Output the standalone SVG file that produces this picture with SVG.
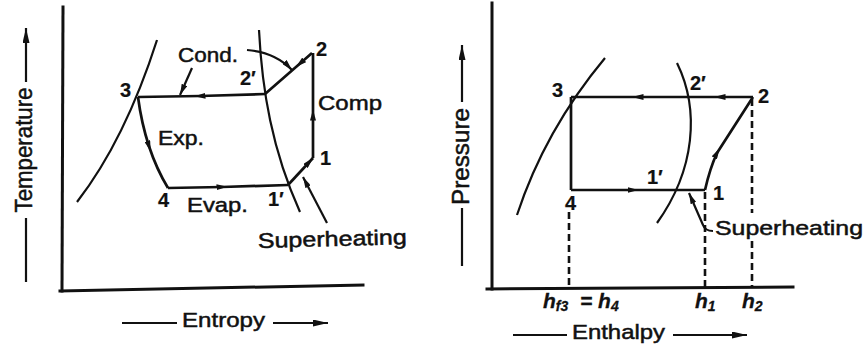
<svg xmlns="http://www.w3.org/2000/svg" width="867" height="347" viewBox="0 0 867 347">
<style>
  .ax{fill:none;stroke:#111;stroke-width:3;stroke-linecap:square}
  .cur{fill:none;stroke:#111;stroke-width:2.2}
  .cy{fill:none;stroke:#111;stroke-width:2.7;stroke-linejoin:round}
  .ptr{fill:none;stroke:#111;stroke-width:2.2}
  .dash{fill:none;stroke:#111;stroke-width:2.6;stroke-dasharray:7 4}
  .mid{marker-mid:url(#am)}
  .end{marker-end:url(#ae)}
  .lab{marker-end:url(#al)}
  text{font-family:"Liberation Sans",Arial,sans-serif;font-size:21px;fill:#111;stroke:#111;stroke-width:0.5}
  .num{font-size:20px;font-weight:bold;stroke-width:0.2}
  .big{font-size:24px}
  .h{font-style:italic;font-weight:bold;stroke-width:0.3}
  .sub{font-size:14px}
</style>
<defs>
  <marker id="am" viewBox="0 0 11 6" refX="5.5" refY="3" markerWidth="11" markerHeight="6" orient="auto" markerUnits="userSpaceOnUse"><path d="M0,0 L11,3 L0,6 z" fill="#111"/></marker>
  <marker id="ae" viewBox="0 0 11 6" refX="11" refY="3" markerWidth="11" markerHeight="6" orient="auto" markerUnits="userSpaceOnUse"><path d="M0,0 L11,3 L0,6 z" fill="#111"/></marker>
  <marker id="al" viewBox="0 0 15 7" refX="15" refY="3.5" markerWidth="15" markerHeight="7" orient="auto" markerUnits="userSpaceOnUse"><path d="M0,0 L15,3.5 L0,7 z" fill="#111"/></marker>
</defs>

<g id="ts-diagram">
  <g id="ts-axes">
    <path class="ax" d="M63,7 L62,291"/>
    <path class="ax" d="M60,291 L363,285"/>
    <path class="cur" d="M26,282 L26,218"/>
    <path class="cur lab" d="M26,82 L26,28"/>
    <text class="big" transform="translate(32,150) rotate(-90)" text-anchor="middle" textLength="125" lengthAdjust="spacingAndGlyphs">Temperature</text>
    <path class="cur" d="M122,323 L177,323"/>
    <path class="cur lab" d="M273,323 L328,323"/>
    <text x="182" y="327" textLength="83" lengthAdjust="spacingAndGlyphs">Entropy</text>
  </g>
  <g id="ts-curves">
    <path class="cur" d="M77,202 Q125,140 157,40"/>
    <path class="cur" d="M259,30 C262,90 272,150 300,212"/>
  </g>
  <g id="ts-connectors">
    <path class="cy mid" d="M265,94 L200,96 L138,97"/>
    <path class="cy mid" d="M312,53 L300,63.5 L265,94"/>
    <path class="cy mid" d="M313,158 L313,115 L313,53"/>
    <path class="cy mid" d="M138,97 Q141.5,123.5 149,146.25 Q156.5,169 168,188"/>
    <path class="cy mid" d="M168,188 L222,187 L288,185"/>
    <path class="cy end" d="M288,185 L313,158"/>
    <path class="ptr end" d="M247,50 Q275,52 292,70"/>
    <path class="ptr end" d="M192,68 L180,95"/>
    <path class="ptr end" d="M327,223 L303,177"/>
  </g>
  <g id="ts-labels">
    <text x="178" y="62" textLength="60" lengthAdjust="spacingAndGlyphs">Cond.</text>
    <text x="318" y="110" textLength="64" lengthAdjust="spacingAndGlyphs">Comp</text>
    <text x="158" y="145" textLength="46" lengthAdjust="spacingAndGlyphs">Exp.</text>
    <text x="187" y="212" textLength="61" lengthAdjust="spacingAndGlyphs">Evap.</text>
    <text x="258" y="248" textLength="149" lengthAdjust="spacingAndGlyphs" transform="rotate(-1.5 258 248)">Superheating</text>
    <text class="num" x="120" y="97">3</text>
    <text class="num" x="240" y="85">2′</text>
    <text class="num" x="316" y="56">2</text>
    <text class="num" x="320" y="165">1</text>
    <text class="num" x="158" y="207">4</text>
    <text class="num" x="268" y="206">1′</text>
  </g>
</g>

<g id="ph-diagram">
  <g id="ph-axes">
    <path class="ax" d="M492,3 L492,289"/>
    <path class="ax" d="M487,289 L793,287"/>
    <path class="cur" d="M462,266 L462,208"/>
    <path class="cur lab" d="M462,102 L462,45"/>
    <text class="big" transform="translate(469,156.5) rotate(-90)" text-anchor="middle" textLength="97" lengthAdjust="spacingAndGlyphs">Pressure</text>
    <path class="cur" d="M513,335 L567,335"/>
    <path class="cur lab" d="M673,335 L747,335"/>
    <text x="572" y="339" textLength="93" lengthAdjust="spacingAndGlyphs">Enthalpy</text>
  </g>
  <g id="ph-curves">
    <path class="cur" d="M517,215 Q545,130 605,58"/>
    <path class="cur" d="M677,63 C700,110 695,170 657,223"/>
  </g>
  <g id="ph-dashed">
    <path class="dash" d="M569,212 L569,288"/>
    <path class="dash" d="M705,192 L705,288"/>
    <path class="dash" d="M752,99 L752,213"/>
    <path class="dash" d="M752,241 L752,288"/>
  </g>
  <g id="ph-connectors">
    <path class="cy mid" d="M753,97 L720,97 L638,97 L571,97"/>
    <path class="cy" d="M571,97 L571,190"/>
    <path class="cy mid" d="M571,190 L633,190 L705,190"/>
    <path class="cy mid" d="M705,190 Q710,168 717,153 L753,97"/>
    <path class="ptr end" d="M713,231 Q705,231 703,225 L689,193"/>
  </g>
  <g id="ph-labels">
    <text class="num" x="552" y="97">3</text>
    <text class="num" x="690" y="90">2′</text>
    <text class="num" x="758" y="103">2</text>
    <text class="num" x="647" y="184">1′</text>
    <text class="num" x="713" y="200">1</text>
    <text class="num" x="565" y="210">4</text>
    <text x="715" y="235" textLength="148" lengthAdjust="spacingAndGlyphs">Superheating</text>
    <text class="h" x="543" y="308">h<tspan class="sub" dy="3">f3</tspan><tspan x="580" dy="-3">= h</tspan><tspan class="sub" dy="3">4</tspan></text>
    <text class="h" x="695" y="308">h<tspan class="sub" dy="3">1</tspan></text>
    <text class="h" x="742" y="308">h<tspan class="sub" dy="3">2</tspan></text>
  </g>
</g>
</svg>
